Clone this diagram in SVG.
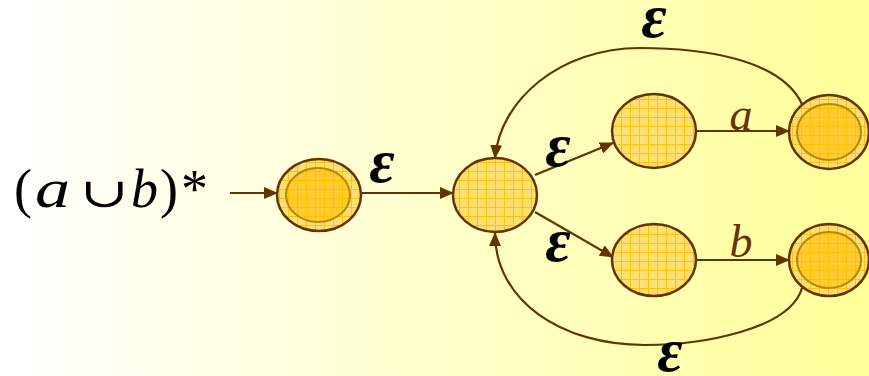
<svg xmlns="http://www.w3.org/2000/svg" width="869" height="376" viewBox="0 0 869 376">
<defs>
<linearGradient id="bg" x1="0" y1="0" x2="1" y2="0">
<stop offset="0" stop-color="#FFFFFF"/>
<stop offset="1" stop-color="#FFFF99"/>
</linearGradient>
<pattern id="grid" width="9" height="9" patternUnits="userSpaceOnUse">
<rect width="9" height="9" fill="#FFE070"/>
<path d="M0 0.5H9M0.5 0V9" stroke="#FFC20E" stroke-width="1"/>
</pattern>
<pattern id="gridIn" width="9" height="9" patternUnits="userSpaceOnUse">
<rect width="9" height="9" fill="#FFCB30"/>
<path d="M0 0.5H9M0.5 0V9" stroke="#FFC000" stroke-width="1"/>
</pattern>
<marker id="ah" viewBox="0 0 14 12" refX="13" refY="6" markerWidth="14" markerHeight="12" markerUnits="userSpaceOnUse" orient="auto">
<path d="M0 0L14 6L0 12Z" fill="#663300"/>
</marker>
</defs>
<style>
.st{fill:url(#grid);stroke:#663300;stroke-width:2.5}
.in{fill:url(#gridIn);stroke:#B8860B;stroke-width:2}
.ed{fill:none;stroke:#663300;stroke-width:2.2;marker-end:url(#ah)}
.eps{font-family:'Liberation Serif',serif;font-weight:bold;font-style:italic;font-size:62px;fill:#000;text-anchor:middle}
.lab{font-family:'Liberation Serif',serif;font-style:italic;font-size:46px;fill:#663300;text-anchor:middle}
.re{font-family:'Liberation Serif',serif;font-size:54px;fill:#000}
.cup{font-family:'DejaVu Serif',serif;font-size:34px;fill:#000;text-anchor:middle}
</style>
<rect width="869" height="376" fill="url(#bg)"/>
<g id="connectors">
<path class="ed" d="M230 193H277"/>
<path class="ed" d="M361 193H453"/>
<path class="ed" d="M535 175L613 143"/>
<path class="ed" d="M535 212L613 257"/>
<path class="ed" d="M696 131H789"/>
<path class="ed" d="M696 260H789"/>
<path class="ed" d="M802 104C780 58 700 48 640 48C560 48 500 100 495 158"/>
<path class="ed" d="M802 288C790 330 700 345 645 345C560 345 495 300 495 233"/>
</g>
<g id="regex">
<text class="re" x="14" y="207">(</text>
<text class="re" transform="translate(35 207) scale(1.3 1)" font-style="italic">a</text>
<text class="cup" transform="translate(104.5 207) scale(1.7 1.2)">∪</text>
<text class="re" x="131" y="207" font-style="italic">b</text>
<text class="re" x="160" y="207">)</text>
<text class="re" x="181" y="207">*</text>
</g>
<g id="s0">
<ellipse class="st" cx="319" cy="195" rx="42" ry="36"/>
<ellipse class="in" cx="318" cy="195" rx="32" ry="27"/>
</g>
<g id="s1">
<ellipse class="st" cx="495" cy="195" rx="42" ry="37"/>
</g>
<g id="s2">
<ellipse class="st" cx="654" cy="131" rx="42" ry="37"/>
</g>
<g id="s3">
<ellipse class="st" cx="829" cy="132" rx="40" ry="37"/>
<ellipse class="in" cx="829" cy="132" rx="32" ry="28"/>
</g>
<g id="s4">
<ellipse class="st" cx="654" cy="260" rx="42" ry="36"/>
</g>
<g id="s5">
<ellipse class="st" cx="829" cy="260" rx="40" ry="36"/>
<ellipse class="in" cx="829" cy="260" rx="32" ry="28"/>
</g>
<g id="labels">
<text class="eps" x="382" y="182">ε</text>
<text class="eps" x="654" y="37">ε</text>
<text class="eps" x="558" y="166">ε</text>
<text class="eps" x="558" y="261">ε</text>
<text class="eps" x="670" y="371">ε</text>
<text class="lab" x="741" y="130">a</text>
<text class="lab" x="741" y="257">b</text>
</g>
</svg>
